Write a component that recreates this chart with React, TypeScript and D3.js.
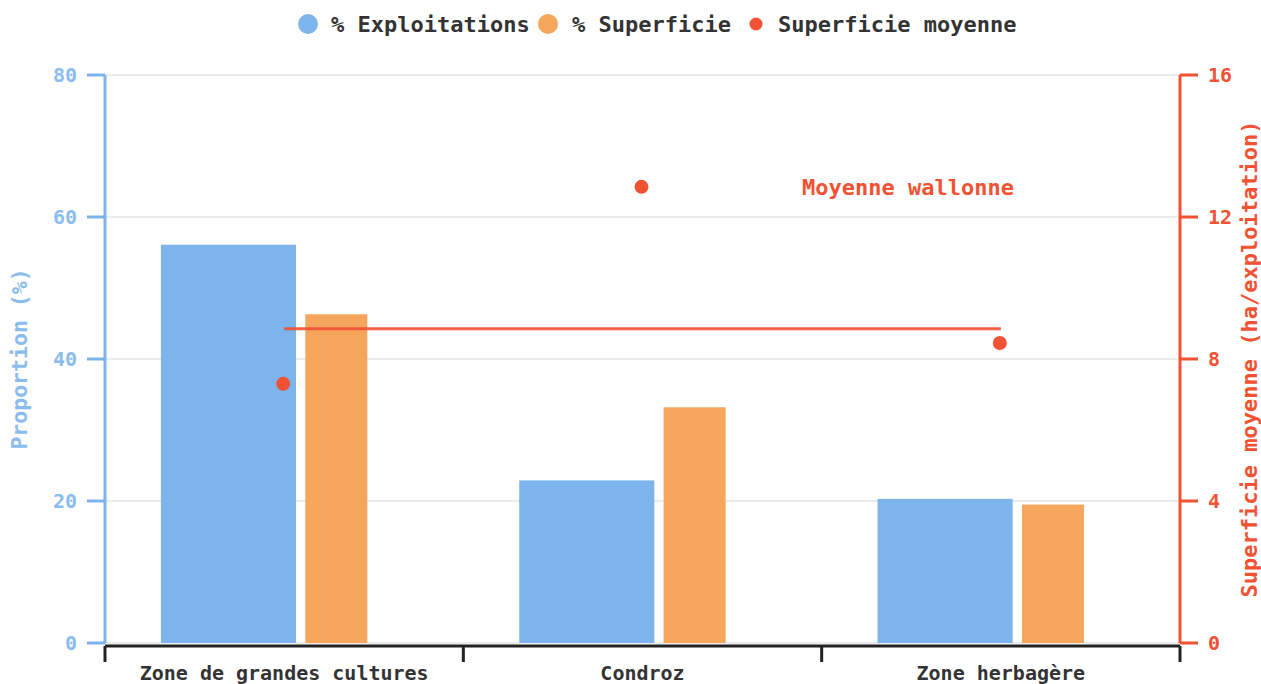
import React from "react";
import * as d3 from "d3";

const categories = ["Zone de grandes cultures", "Condroz", "Zone herbagère"];
const pctExploitations = [56.1, 22.9, 20.3];
const pctSuperficie = [46.3, 33.2, 19.5];
const superficieMoyenne = [7.3, 12.85, 8.45];
const moyenneWallonne = 8.85;
const leftTicks = [0, 20, 40, 60, 80];
const rightTicks = [0, 4, 8, 12, 16];

const W = 1261;
const H = 684;
const FONT = "'DejaVu Sans Mono', monospace";
const BLUE = "#7db4ec";
const BLUE_TXT = "#8bbcf0";
const ORANGE = "#f6a55c";
const RED = "#f05233";

export default function App() {
  const left = 105, right = 1180, top = 75, bottom = 643;
  const x = d3.scaleBand<string>().domain(categories).range([left, right]).padding(0);
  const yL = d3.scaleLinear().domain([0, 80]).range([bottom, top]);
  const yR = d3.scaleLinear().domain([0, 16]).range([bottom, top]);
  const bw = x.bandwidth();
  const cx = (c: string) => (x(c) as number) + bw / 2;

  const legend = [
    { label: "% Exploitations", color: BLUE, cx: 308, r: 10, tx: 331 },
    { label: "% Superficie", color: ORANGE, cx: 548, r: 10, tx: 572 },
    { label: "Superficie moyenne", color: RED, cx: 756, r: 6.5, tx: 778 },
  ];

  return (
    <svg width={W} height={H} style={{ position: "absolute", left: 0, top: 0, background: "#fff" }} fontFamily={FONT} fontWeight="bold">
      {/* legend */}
      {legend.map((l) => (
        <g key={l.label}>
          <circle cx={l.cx} cy={24} r={l.r} fill={l.color} />
          <text x={l.tx} y={32} fontSize={22} fill="#333">{l.label}</text>
        </g>
      ))}
      {/* grid */}
      {leftTicks.map((t) => (
        <line key={t} x1={left} x2={right} y1={yL(t)} y2={yL(t)} stroke="#e6e6e6" strokeWidth={1.5} />
      ))}
      {/* bars */}
      {categories.map((c, i) => {
        const x0 = x(c) as number;
        return (
          <g key={c}>
            <rect x={x0 + bw * 0.156} width={bw * 0.377} y={yL(pctExploitations[i])} height={bottom - yL(pctExploitations[i])} fill={BLUE} />
            <rect x={x0 + bw * 0.559} width={bw * 0.173} y={yL(pctSuperficie[i])} height={bottom - yL(pctSuperficie[i])} fill={ORANGE} />
          </g>
        );
      })}
      {/* moyenne wallonne line */}
      <line x1={cx(categories[0])} x2={cx(categories[categories.length - 1])} y1={yR(moyenneWallonne)} y2={yR(moyenneWallonne)} stroke={RED} strokeWidth={3} opacity={0.9} />
      <text x={1014} y={195} textAnchor="end" fontSize={22} fill={RED}>Moyenne wallonne</text>
      {/* dots */}
      {categories.map((c, i) => (
        <circle key={c} cx={cx(c) - 1} cy={yR(superficieMoyenne[i])} r={7} fill={RED} />
      ))}
      {/* left axis */}
      <line x1={left} x2={left} y1={top} y2={bottom} stroke={BLUE} strokeWidth={3} />
      {leftTicks.map((t) => (
        <g key={t}>
          <line x1={left - 18} x2={left} y1={yL(t)} y2={yL(t)} stroke={BLUE} strokeWidth={3} />
          <text x={77} y={yL(t) + 7} textAnchor="end" fontSize={20} fill={BLUE_TXT}>{t}</text>
        </g>
      ))}
      <text transform={`translate(27,${(top + bottom) / 2}) rotate(-90)`} textAnchor="middle" fontSize={21.5} fill={BLUE_TXT}>Proportion (%)</text>
      {/* right axis */}
      <line x1={right} x2={right} y1={top} y2={bottom} stroke={RED} strokeWidth={3} />
      {rightTicks.map((t) => (
        <g key={t}>
          <line x1={right} x2={right + 18} y1={yR(t)} y2={yR(t)} stroke={RED} strokeWidth={3} />
          <text x={1208} y={yR(t) + 7} textAnchor="start" fontSize={20} fill={RED}>{t}</text>
        </g>
      ))}
      <text transform={`translate(1257,${(top + bottom) / 2}) rotate(-90)`} textAnchor="middle" fontSize={22} fill={RED}>Superficie moyenne (ha/exploitation)</text>
      {/* bottom axis */}
      <line x1={left} x2={right} y1={646} y2={646} stroke="#222" strokeWidth={3} />
      {[...categories.map((c) => x(c) as number), right].map((v, i) => (
        <line key={i} x1={v} x2={v} y1={646} y2={662} stroke="#222" strokeWidth={3} />
      ))}
      {categories.map((c) => (
        <text key={c} x={cx(c)} y={680} textAnchor="middle" fontSize={20} fill="#333">{c}</text>
      ))}
    </svg>
  );
}
